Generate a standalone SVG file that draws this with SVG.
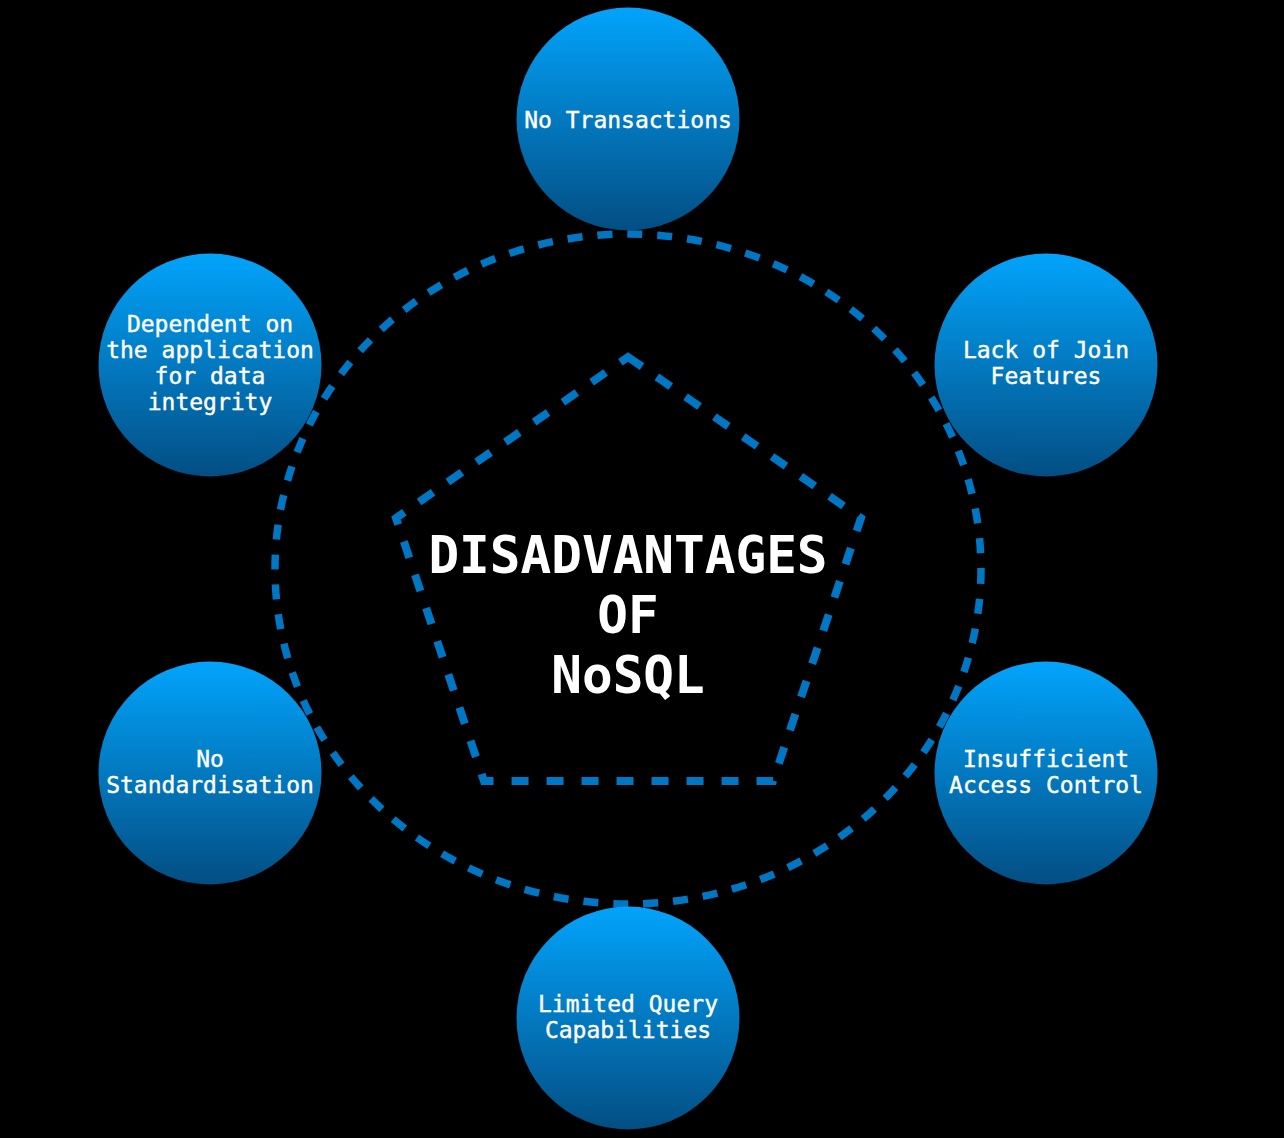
<svg xmlns="http://www.w3.org/2000/svg" width="1284" height="1138" viewBox="0 0 1284 1138">
  <defs>
    <linearGradient id="nodeGrad" x1="0" y1="0" x2="0" y2="1">
      <stop offset="0" stop-color="#02A4FC"/>
      <stop offset="1" stop-color="#034E83"/>
    </linearGradient>
    <style>
      .node circle { fill: url(#nodeGrad); }
      .node text { fill: #ffffff; font-family: "DejaVu Sans Mono", "Liberation Mono", monospace; font-size: 23px; font-weight: normal; text-anchor: middle; stroke: #ffffff; stroke-width: 0.4; }
      .ring { fill: none; stroke: #0077C4; stroke-width: 7.5; stroke-dasharray: 15 15; }
      .penta { fill: none; stroke: #0077C4; stroke-width: 8; stroke-dasharray: 17 18; }
      .title { fill: #ffffff; font-family: "DejaVu Sans Mono", "Liberation Mono", monospace; font-size: 51px; font-weight: bold; text-anchor: middle; }
    </style>
  </defs>
  <rect x="0" y="0" width="1284" height="1138" fill="#000000"/>
  <g id="connectors">
    <ellipse class="ring" cx="628" cy="569" rx="353" ry="335"/>
    <polygon class="penta" points="628,357 861,518 773,781 484,781 396,518"/>
  </g>
  <g id="center">
    <text class="title" x="628" y="573">DISADVANTAGES</text>
    <text class="title" x="628" y="633">OF</text>
    <text class="title" x="628" y="693">NoSQL</text>
  </g>
  <g id="node-top" class="node">
    <circle cx="628" cy="119" r="111.5"/>
    <text x="628" y="128">No Transactions</text>
  </g>
  <g id="node-left-top" class="node">
    <circle cx="210" cy="365" r="111.5"/>
    <text x="210" y="332">Dependent on</text>
    <text x="210" y="358">the application</text>
    <text x="210" y="384">for data</text>
    <text x="210" y="410">integrity</text>
  </g>
  <g id="node-right-top" class="node">
    <circle cx="1046" cy="365" r="111.5"/>
    <text x="1046" y="358">Lack of Join</text>
    <text x="1046" y="384">Features</text>
  </g>
  <g id="node-left-bottom" class="node">
    <circle cx="210" cy="773" r="111.5"/>
    <text x="210" y="767">No</text>
    <text x="210" y="793">Standardisation</text>
  </g>
  <g id="node-right-bottom" class="node">
    <circle cx="1046" cy="773" r="111.5"/>
    <text x="1046" y="767">Insufficient</text>
    <text x="1046" y="793">Access Control</text>
  </g>
  <g id="node-bottom" class="node">
    <circle cx="628" cy="1018" r="111.5"/>
    <text x="628" y="1012">Limited Query</text>
    <text x="628" y="1038">Capabilities</text>
  </g>
</svg>
